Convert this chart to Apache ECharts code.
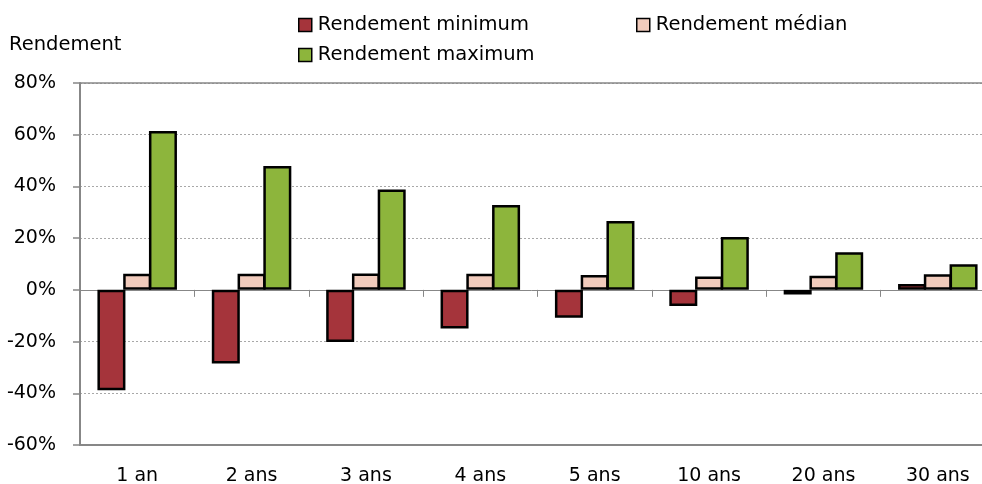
<!DOCTYPE html>
<html>
<head>
<meta charset="utf-8">
<script src="https://cdn.jsdelivr.net/npm/echarts@6/dist/echarts.min.js"></script>
<style>
  html, body { margin: 0; padding: 0; background: #fff; }
  #chart { width: 982px; height: 484px; }
</style>
</head>
<body>
<div id="chart"></div>
<script>
// Holding periods
const categories = ['1 an', '2 ans', '3 ans', '4 ans', '5 ans', '10 ans', '20 ans', '30 ans'];
// Returns in percent
const rendementMinimum = [-38.8, -28.5, -20.2, -14.9, -10.8, -6.2, -1.8, 2.3];
const rendementMedian = [6.2, 6.2, 6.3, 6.2, 5.7, 5.2, 5.5, 6.0];
const rendementMaximum = [61.4, 47.9, 38.8, 32.8, 26.6, 20.4, 14.5, 9.9];
// Value axis ticks
const yMin = -60, yMax = 80, yStep = 20;

const FONT = 'DejaVu Sans';
const AXIS_GREY = '#878787';

const chart = echarts.init(document.getElementById('chart'), null, { renderer: 'canvas' });

function barSeries(name, data, color) {
  return {
    name: name,
    type: 'bar',
    xAxisIndex: 0,
    data: data,
    barWidth: 28,
    barGap: '-8%',
    itemStyle: { color: color, borderColor: '#000', borderWidth: 2.5 },
    emphasis: { disabled: true }
  };
}

function legendFor(name, left, top) {
  return {
    data: [name],
    left: left,
    top: top,
    padding: 0,
    itemWidth: 13,
    itemHeight: 13,
    itemGap: 0,
    icon: 'rect',
    itemStyle: { borderColor: '#000', borderWidth: 1.5 },
    textStyle: { fontFamily: FONT, fontSize: 19.5, color: '#000', padding: [0, 0, 0, 1] },
    selectedMode: false
  };
}

const seriesMin = barSeries('Rendement minimum', rendementMinimum, '#A5343B');
// solid frame line at the top of the value range
seriesMin.markLine = {
  silent: true,
  symbol: 'none',
  label: { show: false },
  lineStyle: { color: AXIS_GREY, width: 1.5, type: 'solid' },
  data: [{ yAxis: yMax }]
};

const option = {
  animation: false,
  title: {
    text: 'Rendement',
    left: 9,
    top: 35,
    padding: 0,
    textStyle: { fontFamily: FONT, fontSize: 19.5, fontWeight: 'normal', color: '#000' }
  },
  legend: [
    legendFor('Rendement minimum', 298, 15),
    legendFor('Rendement médian', 636, 15),
    legendFor('Rendement maximum', 298, 45)
  ],
  grid: { left: 80, right: -13, top: 83, bottom: 39, outerBoundsMode: 'none', containLabel: false },
  xAxis: [
    {
      type: 'category',
      data: categories,
      position: 'bottom',
      axisLine: { onZero: false, lineStyle: { color: AXIS_GREY, width: 2 } },
      axisTick: { show: false },
      axisLabel: { fontFamily: FONT, fontSize: 19, color: '#000', margin: 22 },
      splitLine: { show: false }
    },
    {
      type: 'category',
      data: categories,
      position: 'top',
      axisLine: { onZero: true, lineStyle: { color: AXIS_GREY, width: 1 } },
      axisTick: { show: true, inside: true, length: 7, lineStyle: { color: AXIS_GREY, width: 1 } },
      axisLabel: { show: false },
      splitLine: { show: false }
    }
  ],
  yAxis: {
    type: 'value',
    min: yMin,
    max: yMax,
    interval: yStep,
    axisLine: { show: true, lineStyle: { color: AXIS_GREY, width: 2 } },
    axisTick: { show: true, length: 7, lineStyle: { color: AXIS_GREY, width: 1.5 } },
    axisLabel: {
      fontFamily: FONT, fontSize: 19, color: '#000', margin: 24,
      formatter: '{value}%'
    },
    splitLine: { show: true, lineStyle: { color: '#a8a8a8', width: 1, type: [2, 2] } }
  },
  series: [
    seriesMin,
    barSeries('Rendement médian', rendementMedian, '#F1CBBC'),
    barSeries('Rendement maximum', rendementMaximum, '#8DB53C')
  ]
};

chart.setOption(option);
</script>
</body>
</html>
